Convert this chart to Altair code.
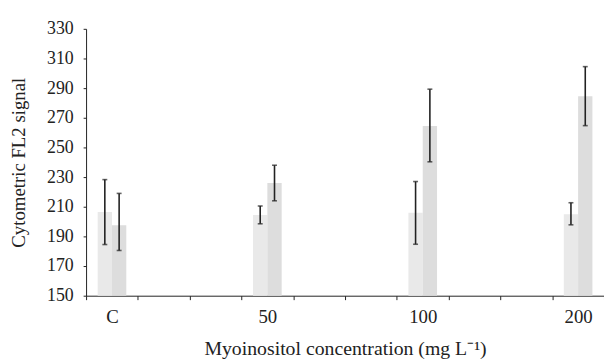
import altair as alt
import pandas as pd

# ---- data ----
bands = ["C", "c1", "c2", "50", "c3", "c4", "100", "c5", "c6", "200"]
categories = ["C", "50", "100", "200"]
series = ["hatched", "brick"]
hatched_mean = [206.5, 204.5, 206.0, 205.0]
hatched_lo = [184.5, 198.5, 184.7, 197.8]
hatched_hi = [228.3, 210.5, 227.0, 212.7]
brick_mean = [197.5, 226.0, 264.5, 284.5]
brick_lo = [180.5, 214.0, 240.3, 264.7]
brick_hi = [219.0, 238.0, 289.3, 304.5]
y_ticks = [150, 170, 190, 210, 230, 250, 270, 290, 310, 330]

rows = []
for i, c in enumerate(categories):
    rows.append(dict(cat=c, series="hatched", value=hatched_mean[i],
                     lo=hatched_lo[i], hi=hatched_hi[i]))
    rows.append(dict(cat=c, series="brick", value=brick_mean[i],
                     lo=brick_lo[i], hi=brick_hi[i]))
df = pd.DataFrame(rows)

FONT = "Liberation Serif"
INK = "#222"

x_axis = alt.Axis(
    title="Myoinositol concentration (mg L\u207b\u00b9)",
    labelAngle=0,
    tickBand="extent",
    labelExpr="indexof(['C','50','100','200'], datum.value) >= 0 ? datum.value : ''",
    tickSize=4,
    labelPadding=8,
    titlePadding=12,
    labelFontSize=19,
    titleFontSize=20,
)
y_axis = alt.Axis(
    title="Cytometric FL2 signal",
    values=y_ticks,
    tickSize=3,
    grid=False,
    labelPadding=10,
    titlePadding=18,
    labelOverlap=False,
    labelFlush=False,
    labelFontSize=18,
    titleFontSize=19,
)
x_scale = alt.Scale(domain=bands, paddingInner=0, paddingOuter=0)
y_scale = alt.Scale(domain=[150, 330], zero=False, nice=False)

xs = alt.X("cat:N", scale=x_scale, axis=x_axis)
xo_enc = alt.XOffset(
    "series:N", scale=alt.Scale(domain=series, paddingInner=0, paddingOuter=0.81)
)

base = alt.Chart(df)

bars = base.mark_bar(strokeWidth=0).encode(
    x=xs,
    xOffset=xo_enc,
    y=alt.Y("value:Q", scale=y_scale, axis=y_axis),
    y2=alt.datum(150),
    fill=alt.Fill(
        "series:N",
        scale=alt.Scale(domain=series, range=["#e9e9e9", "#dddddd"]),
        legend=None,
    ),
)

rules = base.mark_rule(color=INK, strokeWidth=1.6).encode(
    x=xs, xOffset=xo_enc, y=alt.Y("lo:Q", scale=y_scale, axis=y_axis), y2="hi:Q"
)
cap_lo = base.mark_tick(color=INK, thickness=1.6, size=5).encode(
    x=xs, xOffset=xo_enc, y=alt.Y("lo:Q", scale=y_scale, axis=y_axis)
)
cap_hi = base.mark_tick(color=INK, thickness=1.6, size=5).encode(
    x=xs, xOffset=xo_enc, y=alt.Y("hi:Q", scale=y_scale, axis=y_axis)
)

chart = (
    alt.layer(bars, rules, cap_lo, cap_hi)
    .properties(
        width=524,
        height=270,
        autosize=alt.AutoSizeParams(type="none"),
        padding={"left": 79, "top": 19, "right": 0, "bottom": 64},
    )
    .configure_view(stroke=None)
    .configure_axis(
        labelFont=FONT,
        titleFont=FONT,
        titleFontWeight="normal",
        labelColor=INK,
        titleColor=INK,
        domainColor=INK,
        tickColor=INK,
        labelOverlap=False,
    )
)

chart.save("out.html", embed_options={"renderer": "svg", "actions": False})
